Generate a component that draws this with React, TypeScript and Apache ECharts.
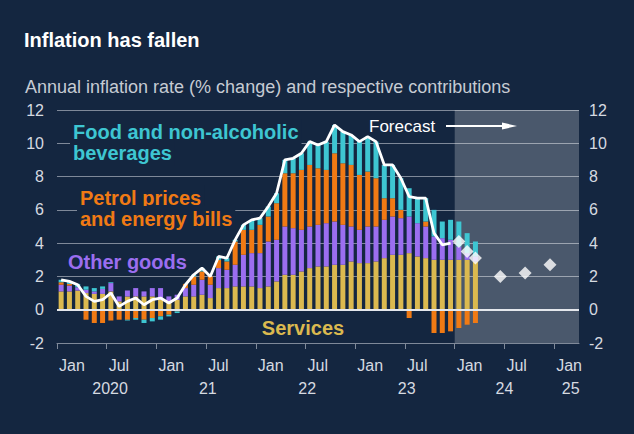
import React, { useEffect, useRef } from 'react';
import * as echarts from 'echarts';

// ---- Data (monthly contributions, Jan 2020 .. Mar 2024) ----
const services = [
  1.1, 1.1, 1.15, 1.0, 0.95, 0.95, 1.1, 0.5, 0.8, 0.8, 0.8, 0.8,
  0.6, 0.5, 0.6, 0.8, 0.8, 0.9, 0.7, 1.3, 1.3, 1.4, 1.4, 1.4,
  1.3, 1.4, 1.7, 2.1, 2.1, 2.3, 2.5, 2.6, 2.6, 2.7, 2.7, 2.9,
  2.8, 2.8, 2.9, 3.1, 3.3, 3.3, 3.4, 3.2, 3.1, 3.0, 3.0, 3.0,
  3.0, 3.0, 2.9,
];
const otherGoods = [
  0.4, 0.35, 0.2, 0.2, 0.15, 0.3, 0.5, 0.3, 0.35, 0.5, 0.3, 0.5,
  0.7, 0.3, 0.3, 0.5, 0.7, 0.9, 0.8, 1.2, 1.1, 1.3, 1.9, 2.0,
  2.1, 2.7, 2.5, 2.9, 2.8, 2.5, 2.5, 2.5, 2.6, 2.6, 2.4, 2.1,
  2.0, 2.2, 2.1, 2.3, 2.3, 2.2, 2.2, 2.0, 1.9, 1.4, 1.3, 1.2,
  0.8, 0.4, 0.3,
];
const energy = [
  0.15, 0.1, -0.05, -0.6, -0.8, -0.8, -0.65, -0.6, -0.6, -0.5, -0.6, -0.5,
  -0.4, -0.3, -0.1, 0.25, 0.5, 0.5, 0.5, 0.5, 0.5, 1.4, 1.5, 1.4,
  1.7, 1.5, 2.2, 3.2, 3.3, 3.6, 3.7, 3.4, 3.2, 4.1, 3.7, 3.7,
  3.3, 3.3, 2.9, 1.3, 1.1, 0.5, -0.5, 0.0, 0.3, -1.4, -1.4, -1.3,
  -1.1, -0.9, -0.8,
];
const food = [
  0.15, 0.15, 0.2, 0.2, 0.2, 0.15, 0.05, 0.0, -0.05, -0.1, -0.2, -0.2,
  -0.2, -0.1, -0.1, -0.05, 0.1, 0.2, 0.0, 0.2, 0.2, 0.1, 0.3, 0.6,
  0.4, 0.6, 0.6, 0.8, 0.9, 1.0, 1.4, 1.4, 1.7, 1.7, 1.9, 1.8,
  2.0, 2.1, 2.2, 2.0, 2.0, 1.9, 1.7, 1.5, 1.4, 1.6, 1.0, 1.2,
  1.5, 1.2, 0.9,
];
// CPI inflation, Jan 2020 .. Dec 2023
const cpi = [
  1.8, 1.7, 1.5, 0.8, 0.5, 0.6, 1.0, 0.2, 0.5, 0.7, 0.3, 0.6,
  0.7, 0.4, 0.7, 1.5, 2.1, 2.5, 2.0, 3.2, 3.1, 4.2, 5.1, 5.4,
  5.5, 6.2, 7.0, 9.0, 9.1, 9.4, 10.1, 9.9, 10.1, 11.1, 10.7, 10.5,
  10.1, 10.4, 10.1, 8.7, 8.7, 7.9, 6.8, 6.7, 6.7, 4.6, 3.9, 4.0,
];
// Projections: month index (0 = Jan 2020) and value
const forecastMonths = [48, 49, 50, 53, 56, 59];
const forecastValues = [4.1, 3.5, 3.1, 2.0, 2.2, 2.7];
const forecastStart = 48; // start of Jan 2024
const axisEndMonth = 63; // end of Mar 2025

// Categories: Jan 2020 .. Mar 2025
const years = [2020, 2021, 2022, 2023, 2024, 2025];
const monthNames = ['Jan', 'Feb', 'Mar', 'Apr', 'May', 'Jun', 'Jul', 'Aug', 'Sep', 'Oct', 'Nov', 'Dec'];
const categories: string[] = [];
years.forEach((y) => monthNames.forEach((m) => categories.push(`${m} ${y}`)));
categories.length = axisEndMonth;

// Tick labels
const monthTickPos = [0, 6, 12, 18, 24, 30, 36, 42, 48, 54, 60];
const monthTickLabels = ['Jan', 'Jul', 'Jan', 'Jul', 'Jan', 'Jul', 'Jan', 'Jul', 'Jan', 'Jul', 'Jan'];
const yearLabelPos = [6.4, 18.2, 30.2, 42.2, 54, 62];
const yearLabels = ['2020', '21', '22', '23', '24', '25'];

const BG = '#142640';
const C_SERV = '#dbb94f';
const C_GOODS = '#9b6ef0';
const C_ENERGY = '#f07a14';
const C_FOOD = '#3ec6d2';
const GRID = '#7f8999';
const LABEL = '#d6dae0';
const FONT = '"Liberation Sans", Arial, Helvetica, sans-serif';

export default function App() {
  const ref = useRef<HTMLDivElement>(null);
  useEffect(() => {
    const chart = echarts.init(ref.current!, null, { renderer: 'svg' });
    const barBase = {
      type: 'bar',
      stack: 'contrib',
      barWidth: 5,
      xAxisIndex: 0,
      yAxisIndex: 0,
      silent: true,
    };
    const option: any = {
      animation: false,
      backgroundColor: BG,
      textStyle: { fontFamily: FONT },
      title: [
        {
          text: 'Inflation has fallen',
          left: 24,
          top: 30,
          padding: 0,
          textStyle: { color: '#ffffff', fontSize: 20, fontWeight: 'bold', fontFamily: FONT, lineHeight: 20 },
        },
        {
          text: 'Annual inflation rate (% change) and respective contributions',
          left: 25,
          top: 78,
          padding: 0,
          textStyle: { color: '#c6cbd3', fontSize: 18, fontWeight: 'normal', fontFamily: FONT, lineHeight: 18 },
        },
      ],
      grid: { left: 57, right: 55, top: 110, bottom: 91 },
      xAxis: [
        {
          type: 'category',
          data: categories,
          boundaryGap: true,
          position: 'bottom',
          axisLine: { show: false },
          axisTick: { show: false },
          axisLabel: { show: false },
          splitLine: { show: false },
        },
        {
          type: 'value',
          min: 0,
          max: axisEndMonth,
          position: 'bottom',
          axisLine: { show: true, onZero: false, lineStyle: { color: GRID, width: 1 } },
          axisTick: { show: true, customValues: monthTickPos, length: 6, lineStyle: { color: GRID } },
          axisLabel: {
            customValues: monthTickPos,
            formatter: (v: number) => monthTickLabels[monthTickPos.indexOf(Math.round(v))] ?? '',
            align: 'left',
            padding: [0, 0, 0, 2],
            color: LABEL,
            fontSize: 16,
            fontFamily: FONT,
            margin: 14,
          },
          splitLine: { show: false },
        },
        {
          type: 'value',
          min: 0,
          max: axisEndMonth,
          position: 'bottom',
          axisLine: { show: false, onZero: false },
          axisTick: { show: false },
          axisLabel: {
            customValues: yearLabelPos,
            formatter: (v: number) => {
              const k = yearLabelPos.findIndex((p) => Math.abs(p - v) < 0.01);
              return k >= 0 ? yearLabels[k] : '';
            },
            align: 'center',
            color: LABEL,
            fontSize: 16,
            fontFamily: FONT,
            margin: 37,
          },
          splitLine: { show: false },
        },
      ],
      yAxis: [
        {
          type: 'value',
          min: -2,
          max: 12,
          interval: 2,
          position: 'left',
          axisLine: { show: false },
          axisTick: { show: false },
          axisLabel: { color: LABEL, fontSize: 16, fontFamily: FONT, margin: 13 },
          splitLine: { show: true, lineStyle: { color: GRID, width: 1 } },
        },
        {
          type: 'value',
          min: -2,
          max: 12,
          interval: 2,
          position: 'right',
          axisLine: { show: false },
          axisTick: { show: false },
          axisLabel: { color: LABEL, fontSize: 16, fontFamily: FONT, margin: 10 },
          splitLine: { show: false },
        },
      ],
      series: [
        {
          type: 'line',
          xAxisIndex: 1,
          yAxisIndex: 0,
          data: [],
          z: 1,
          silent: true,
          markArea: {
            silent: true,
            itemStyle: { color: 'rgba(255,255,255,0.23)' },
            data: [[{ xAxis: forecastStart }, { xAxis: axisEndMonth }]],
          },
        },
        { ...barBase, name: 'Services', data: services, itemStyle: { color: C_SERV } },
        { ...barBase, name: 'Other goods', data: otherGoods, itemStyle: { color: C_GOODS } },
        { ...barBase, name: 'Petrol prices and energy bills', data: energy, itemStyle: { color: C_ENERGY } },
        { ...barBase, name: 'Food and non-alcoholic beverages', data: food, itemStyle: { color: C_FOOD } },
        {
          type: 'line',
          name: 'CPI inflation',
          xAxisIndex: 0,
          yAxisIndex: 0,
          data: cpi,
          symbol: 'none',
          z: 5,
          silent: true,
          lineStyle: { color: '#ffffff', width: 2.8 },
          markLine: {
            silent: true,
            symbol: 'none',
            label: { show: false },
            lineStyle: { color: '#e4e7ec', width: 2, type: 'solid' },
            data: [{ yAxis: 0 }],
          },
        },
        {
          type: 'scatter',
          name: 'Forecast',
          xAxisIndex: 0,
          yAxisIndex: 0,
          data: forecastMonths.map((m, i) => [m, forecastValues[i]]),
          symbol: 'diamond',
          symbolSize: 13,
          z: 6,
          silent: true,
          itemStyle: { color: '#ffffff' },
        },
      ],
      graphic: [
        {
          type: 'text', x: 70, y: 132, z: 1,
          style: { text: 'Food and non-alcoholic', fill: C_FOOD, font: `bold 20px ${FONT}`, textVerticalAlign: 'middle', backgroundColor: BG, padding: [3, 3] },
        },
        {
          type: 'text', x: 70, y: 153, z: 1,
          style: { text: 'beverages', fill: C_FOOD, font: `bold 20px ${FONT}`, textVerticalAlign: 'middle', backgroundColor: BG, padding: [3, 3] },
        },
        {
          type: 'text', x: 77, y: 198, z: 1,
          style: { text: 'Petrol prices', fill: C_ENERGY, font: `bold 20px ${FONT}`, textVerticalAlign: 'middle', backgroundColor: BG, padding: [3, 3] },
        },
        {
          type: 'text', x: 77, y: 219, z: 1,
          style: { text: 'and energy bills', fill: C_ENERGY, font: `bold 20px ${FONT}`, textVerticalAlign: 'middle', backgroundColor: BG, padding: [3, 3] },
        },
        {
          type: 'text', x: 68, y: 262, z: 1,
          style: { text: 'Other goods', fill: C_GOODS, font: `bold 20px ${FONT}`, textVerticalAlign: 'middle' },
        },
        {
          type: 'text', x: 303, y: 328, z: 1,
          style: { text: 'Services', fill: C_SERV, font: `bold 20px ${FONT}`, textAlign: 'center', textVerticalAlign: 'middle' },
        },
        {
          type: 'text', x: 369, y: 126, z: 10,
          style: { text: 'Forecast', fill: '#ffffff', font: `17px ${FONT}`, textVerticalAlign: 'middle' },
        },
        {
          type: 'line', z: 10,
          shape: { x1: 446, y1: 126, x2: 506, y2: 126 },
          style: { stroke: '#ffffff', lineWidth: 2 },
        },
        {
          type: 'polygon', z: 10,
          shape: { points: [[502, 122.5], [517, 126], [502, 129.5]] },
          style: { fill: '#ffffff' },
        },
      ],
    };
    chart.setOption(option);
    return () => chart.dispose();
  }, []);
  return (
    <div
      ref={ref}
      style={{ position: 'absolute', left: 0, top: 0, width: 634, height: 434, background: BG }}
    />
  );
}
